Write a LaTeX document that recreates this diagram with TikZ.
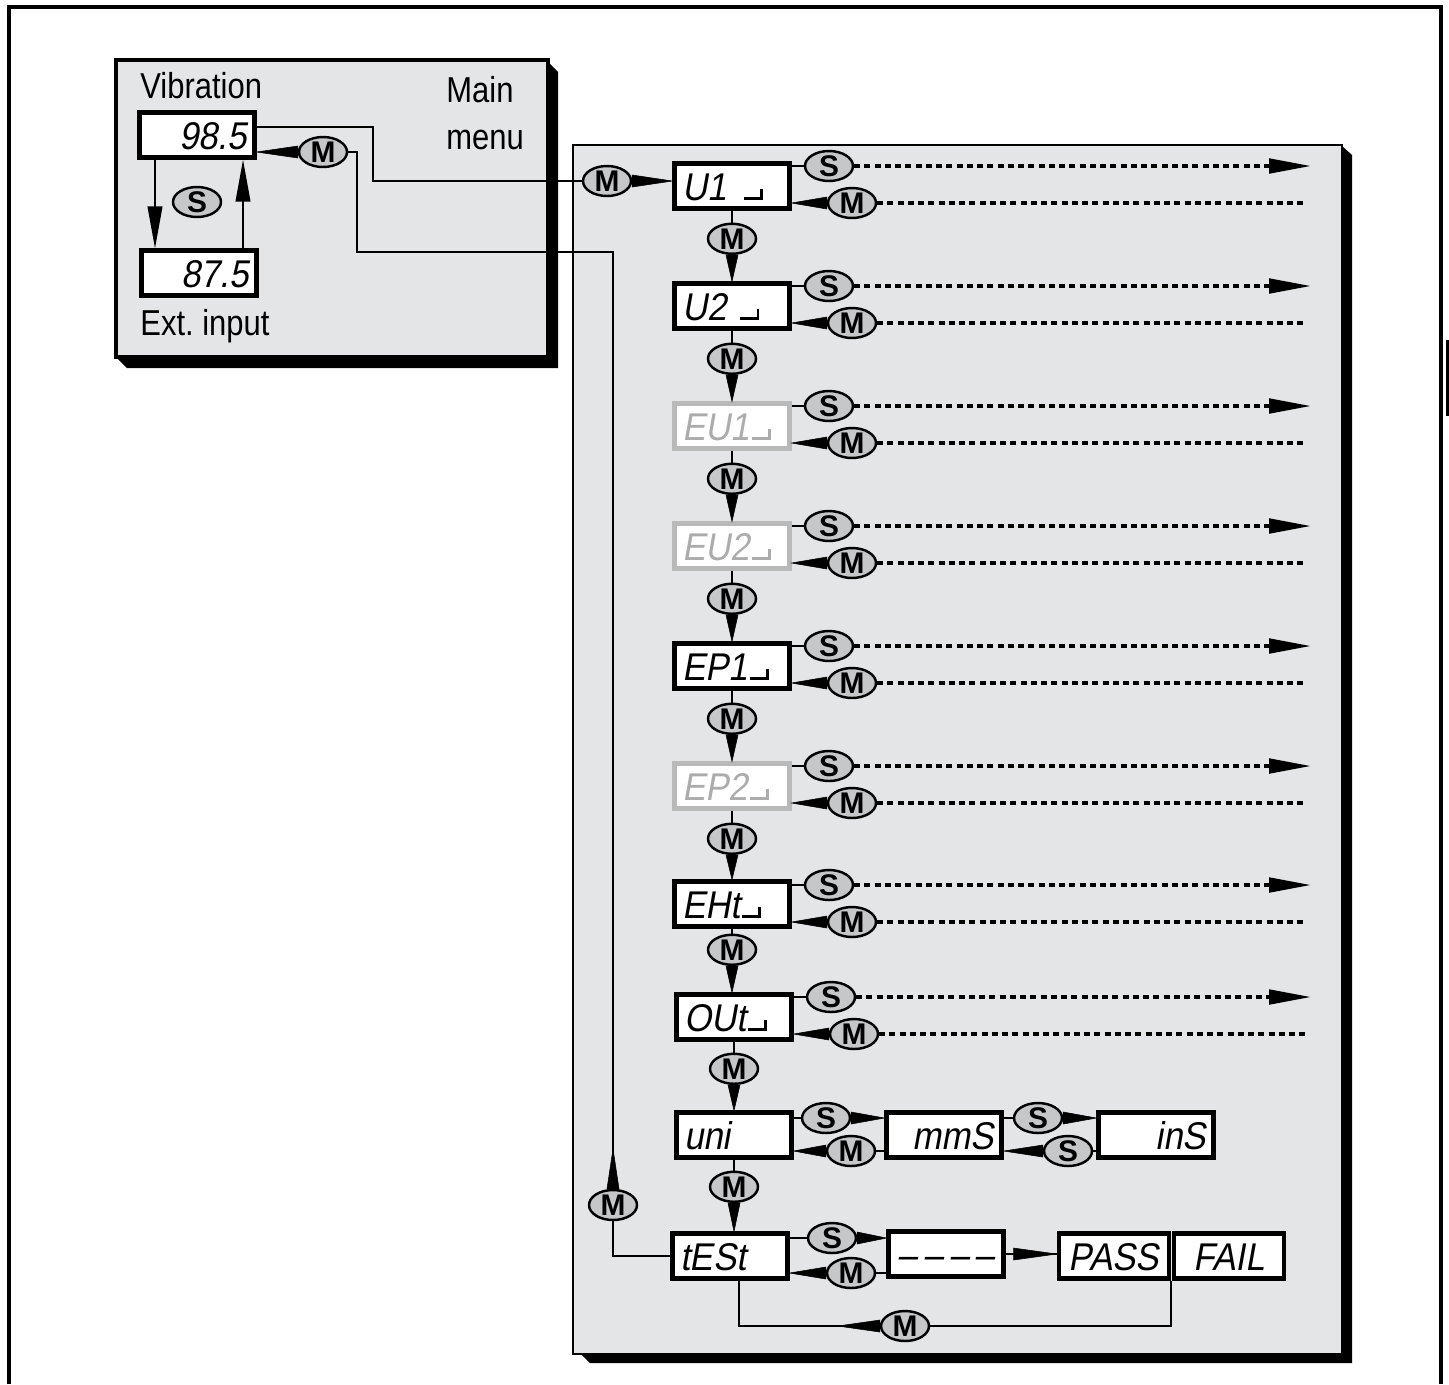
\documentclass[tikz,border=0pt]{standalone}
\usepackage{fontspec}
\setmainfont{Liberation Sans}
\newfontfamily\segfont{Liberation Sans}[FakeSlant=0.18, FakeStretch=0.9]
\newfontfamily\labelfont{Liberation Sans}[FakeStretch=0.86]
\usepackage{tikz}
\usetikzlibrary{calc, positioning, shapes.geometric, arrows.meta}
\definecolor{panelgray}{RGB}{228,229,231}
\definecolor{keygray}{RGB}{198,199,201}
\newcommand{\segend}{\kern0.05em\rule{0.42em}{0.075em}\rule{0.075em}{0.3em}}
\tikzset{
    disp/.style={draw, rectangle, line width=2.6pt, fill=white, minimum height=0.89cm, text width=1.99cm, text height=0.57cm, text depth=0pt, inner xsep=0.15cm, inner ysep=0pt, font=\segfont\fontsize{22}{22}\selectfont, align=left},
    dimdisp/.style={disp, draw=gray!55, text=gray!65},
    key/.style={draw, ellipse, line width=1.4pt, fill=keygray, inner sep=0pt, minimum width=0.96cm, minimum height=0.6cm, font=\bfseries\fontsize{17}{17}\selectfont},
    menutext/.style={anchor=west, inner sep=0pt, align=left, font=\labelfont\fontsize{20.5}{27}\selectfont},
    link/.style={line width=1.3pt},
    dotrun/.style={line width=2pt, dash pattern=on 0.12cm off 0.085cm},
    endtip/.style={-{Triangle[length=0.84cm, width=0.29cm]}},
    wedge/.style={fill=black, line width=0.3pt, to path={
        let \p1=(\tikztostart), \p2=(\tikztotarget), \n1={atan2(\y2-\y1,\x2-\x1)} in
        ($(\p1)+(\n1+90:0.12cm)$) -- (\p2) -- ($(\p1)+(\n1-90:0.12cm)$) -- cycle}}
}

\begin{document}
\begin{tikzpicture}[x=0.02cm, y=-0.02cm]
    \useasboundingbox (0,0) rectangle (1449,1384);
    % frame, main menu box, panel
    \draw[line width=2.3pt] (9,1384) |- (1441,7) -- (1441,1384);
    \fill (1446,340) rectangle (1449,416);
    \fill (548,62) -- (558,72) -- (558,368) -- (127,368) -- (117,358) -- cycle;
    \draw[line width=1.8pt, fill=panelgray] (116,60) rectangle (548,357);
    \fill (1342,146) -- (1352,155) -- (1352,1363) -- (590,1363) -- (582,1355) -- cycle;
    \draw[line width=1.5pt, fill=panelgray] (573,145) rectangle (1342,1354);
    \coordinate (sEnd) at (1311,0);
    \coordinate (mEnd) at (1307,0);
    \coordinate (dn) at (155,0);
    \coordinate (up) at (243,0);
    % main menu
    \node[menutext] (vib-lbl) at (140,86) {Vibration};
    \node[menutext] (main-lbl) at (446,113) {Main\\menu};
    \node[menutext] (ext-lbl) at (140,326) {Ext.\ input};
    \node[disp, align=right] (vib) at (197,135) {98.5};
    \node[disp, align=right] (ext) at (199,273) {87.5};
    \node[key] (s-vib) at (197,202) {S};
    \node[key] (m-vib) at (323,152) {M};
    % menu column
    \node[key] (m-in) at (607,181) {M};
    \node[disp] (u1) at (732,186) {U1\hspace{0.4em}\segend};
    \node[key] (s-u1) at (829,166) {S};
    \node[key] (m-u1) at (852,203) {M};
    \node[key, below=0.24cm of u1] (v-u2) {M};
    \node[disp] (u2) at (732,306) {U2\hspace{0.3em}\segend};
    \node[key] (s-u2) at (829,286) {S};
    \node[key] (m-u2) at (852,323) {M};
    \node[key, below=0.24cm of u2] (v-eu1) {M};
    \node[dimdisp] (eu1) at (732,426) {EU1\segend};
    \node[key] (s-eu1) at (829,406) {S};
    \node[key] (m-eu1) at (852,443) {M};
    \node[key, below=0.24cm of eu1] (v-eu2) {M};
    \node[dimdisp] (eu2) at (732,546) {EU2\segend};
    \node[key] (s-eu2) at (829,526) {S};
    \node[key] (m-eu2) at (852,563) {M};
    \node[key, below=0.24cm of eu2] (v-ep1) {M};
    \node[disp] (ep1) at (732,666) {EP1\segend};
    \node[key] (s-ep1) at (829,646) {S};
    \node[key] (m-ep1) at (852,683) {M};
    \node[key, below=0.24cm of ep1] (v-ep2) {M};
    \node[dimdisp] (ep2) at (732,786) {EP2\segend};
    \node[key] (s-ep2) at (829,766) {S};
    \node[key] (m-ep2) at (852,803) {M};
    \node[key, below=0.24cm of ep2] (v-eht) {M};
    \node[disp] (eht) at (732,904) {EHt\segend};
    \node[key] (s-eht) at (829,885) {S};
    \node[key] (m-eht) at (852,922) {M};
    \node[key, below=0.1cm of eht] (v-out) {M};
    \node[disp] (out) at (734,1017) {OUt\segend};
    \node[key] (s-out) at (831,997) {S};
    \node[key] (m-out) at (854,1034) {M};
    \node[key, below=0.22cm of out] (v-uni) {M};
    \node[disp] (uni) at (734,1135) {uni};
    \node[disp, align=right] (mms) at (944,1135) {mmS};
    \node[disp, align=right] (ins) at (1156,1135) {inS};
    \node[key] (s-uni) at (826,1118) {S};
    \node[key] (m-uni) at (851,1151) {M};
    \node[key] (s-mms) at (1038,1118) {S};
    \node[key] (s-ins) at (1068,1151) {S};
    \node[key, below=0.22cm of uni] (v-test) {M};
    \node[disp] (test) at (730,1256) {tESt};
    \node[disp, align=center] (wait) at (946,1254) {–\,–\,–\,–};
    \node[disp, text width=1.9cm, align=center] (pass) at (1114,1256) {PASS};
    \node[disp, text width=1.9cm, align=center] (fail) at (1229,1256) {FAIL};
    \node[key] (s-test) at (832,1238) {S};
    \node[key] (m-test) at (851,1273) {M};
    \node[key] (m-pf) at (905,1326) {M};
    \node[key] (m-back) at (613,1205) {M};
    \coordinate (back-tip) at ($(m-back.north)+(0,-40)$);
    \coordinate (pf-tip) at ($(m-pf.west)+(-42,0)$);
    \coordinate (wait-out) at ($(wait.east)+(8,0)$);
    % ----
    \draw[link, endtip] (vib.south -| dn) -- (ext.north -| dn);
    \draw[link, endtip] (ext.north -| up) -- (vib.south -| up);
    \draw[link] (vib.east |- 0,127) -| (373,181) -- (m-in);
    \draw[wedge] (m-in.east) to (m-in.east -| u1.west);
    \draw[wedge] (m-vib.west) to (m-vib.west -| vib.east);
    \draw[link] (m-vib) -| (357,252) -| (m-back);
    \draw[wedge] (m-back.north) to (back-tip);
    \draw[link] (test.west) -| (m-back);

    \draw[link] (u1.east |- s-u1) -- (s-u1); \draw[wedge] (m-u1.west) to (m-u1.west -| u1.east);
    \draw[dotrun, endtip] (s-u1) -- (s-u1 -| sEnd); \draw[dotrun] (m-u1) -- (m-u1 -| mEnd);
    \draw[link] (u1) -- (v-u2); \draw[wedge] (v-u2.south) to (v-u2.south |- u2.north);

    \draw[link] (u2.east |- s-u2) -- (s-u2); \draw[wedge] (m-u2.west) to (m-u2.west -| u2.east);
    \draw[dotrun, endtip] (s-u2) -- (s-u2 -| sEnd); \draw[dotrun] (m-u2) -- (m-u2 -| mEnd);
    \draw[link] (u2) -- (v-eu1); \draw[wedge] (v-eu1.south) to (v-eu1.south |- eu1.north);

    \draw[link] (eu1.east |- s-eu1) -- (s-eu1); \draw[wedge] (m-eu1.west) to (m-eu1.west -| eu1.east);
    \draw[dotrun, endtip] (s-eu1) -- (s-eu1 -| sEnd); \draw[dotrun] (m-eu1) -- (m-eu1 -| mEnd);
    \draw[link] (eu1) -- (v-eu2); \draw[wedge] (v-eu2.south) to (v-eu2.south |- eu2.north);

    \draw[link] (eu2.east |- s-eu2) -- (s-eu2); \draw[wedge] (m-eu2.west) to (m-eu2.west -| eu2.east);
    \draw[dotrun, endtip] (s-eu2) -- (s-eu2 -| sEnd); \draw[dotrun] (m-eu2) -- (m-eu2 -| mEnd);
    \draw[link] (eu2) -- (v-ep1); \draw[wedge] (v-ep1.south) to (v-ep1.south |- ep1.north);

    \draw[link] (ep1.east |- s-ep1) -- (s-ep1); \draw[wedge] (m-ep1.west) to (m-ep1.west -| ep1.east);
    \draw[dotrun, endtip] (s-ep1) -- (s-ep1 -| sEnd); \draw[dotrun] (m-ep1) -- (m-ep1 -| mEnd);
    \draw[link] (ep1) -- (v-ep2); \draw[wedge] (v-ep2.south) to (v-ep2.south |- ep2.north);

    \draw[link] (ep2.east |- s-ep2) -- (s-ep2); \draw[wedge] (m-ep2.west) to (m-ep2.west -| ep2.east);
    \draw[dotrun, endtip] (s-ep2) -- (s-ep2 -| sEnd); \draw[dotrun] (m-ep2) -- (m-ep2 -| mEnd);
    \draw[link] (ep2) -- (v-eht); \draw[wedge] (v-eht.south) to (v-eht.south |- eht.north);

    \draw[link] (eht.east |- s-eht) -- (s-eht); \draw[wedge] (m-eht.west) to (m-eht.west -| eht.east);
    \draw[dotrun, endtip] (s-eht) -- (s-eht -| sEnd); \draw[dotrun] (m-eht) -- (m-eht -| mEnd);
    \draw[link] (eht) -- (v-out); \draw[wedge] (v-out.south) to (v-out.south |- out.north);

    \draw[link] (out.east |- s-out) -- (s-out); \draw[wedge] (m-out.west) to (m-out.west -| out.east);
    \draw[dotrun, endtip] (s-out) -- (s-out -| sEnd); \draw[dotrun] (m-out) -- (m-out -| mEnd);
    \draw[link] (out) -- (v-uni); \draw[wedge] (v-uni.south) to (v-uni.south |- uni.north);

    \draw[link] (uni.east |- s-uni) -- (s-uni); \draw[wedge] (s-uni.east) to (s-uni.east -| mms.west);
    \draw[link] (m-uni) -- (m-uni -| mms.west); \draw[wedge] (m-uni.west) to (m-uni.west -| uni.east);
    \draw[link] (mms.east |- s-mms) -- (s-mms); \draw[wedge] (s-mms.east) to (s-mms.east -| ins.west);
    \draw[link] (s-ins) -- (s-ins -| ins.west); \draw[wedge] (s-ins.west) to (s-ins.west -| mms.east);
    \draw[link] (uni) -- (v-test); \draw[wedge] (v-test.south) to (v-test.south |- test.north);

    \draw[link] (test.east |- s-test) -- (s-test); \draw[wedge] (s-test.east) to (s-test.east -| wait.west);
    \draw[link] (m-test) -- (m-test -| wait.west); \draw[wedge] (m-test.west) to (m-test.west -| test.east);
    \draw[link] (wait.east) -- (wait.east -| pass.west); \draw[wedge] (wait-out) to (wait-out -| pass.west);
    \draw[link] (pass.south east) |- (m-pf);
    \draw[link] (m-pf) -| ([xshift=0.18cm]test.south);
    \draw[wedge] (m-pf.west) to (pf-tip);
\end{tikzpicture}
\end{document}
